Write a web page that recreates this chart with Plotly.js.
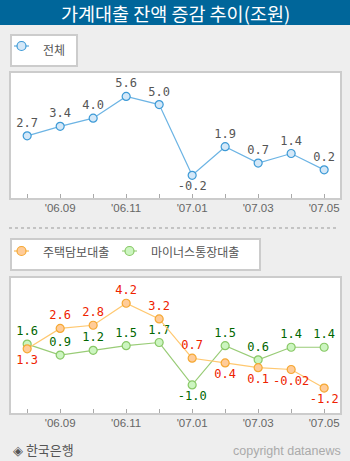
<!DOCTYPE html>
<html><head><meta charset="utf-8">
<script src="https://cdn.plot.ly/plotly-3.0.1.min.js"></script>
<style>html,body{margin:0;padding:0;background:#eeeeee;}#chart{width:350px;height:461px;}</style>
</head><body><div id="chart"></div>
<script>
const months = ["'06.08","'06.09","'06.10","'06.11","'06.12","'07.01","'07.02","'07.03","'07.04","'07.05"];
const total = [2.7, 3.4, 4.0, 5.6, 5.0, -0.2, 1.9, 0.7, 1.4, 0.2];
const mortgage = [1.3, 2.6, 2.8, 4.2, 3.2, 0.7, 0.4, 0.1, -0.02, -1.2];
const minus = [1.6, 0.9, 1.2, 1.5, 1.7, -1.0, 1.5, 0.6, 1.4, 1.4];
const totalLabels = ["2.7","3.4","4.0","5.6","5.0","-0.2","1.9","0.7","1.4","0.2"];
const mortgageLabels = ["1.3","2.6","2.8","4.2","3.2","0.7","0.4","0.1","-0.02","-1.2"];
const minusLabels = ["1.6","0.9","1.2","1.5","1.7","-1.0","1.5","0.6","1.4","1.4"];
const tickText = months.map((m,i)=> i%2===1 ? m : '');

const W=350,H=461;
const px = v => v/W, py = v => 1 - v/H;
const numFont = {family:'DejaVu Sans Mono, monospace', size:12};

const traces = [
 {x:months, y:total, type:'scatter', mode:'lines+markers+text', xaxis:'x', yaxis:'y',
  line:{color:'#6cb4e4', width:1.2}, marker:{size:8, color:'#d4e8f8', line:{color:'#3d9ad6', width:1.2}},
  text: totalLabels, textposition: total.map(v=> v<0 ? 'bottom center' : 'top center'),
  textfont:Object.assign({color:'#555'}, numFont), cliponaxis:false, showlegend:false, hoverinfo:'none'},
 {x:months, y:minus, type:'scatter', mode:'lines+markers+text', xaxis:'x2', yaxis:'y2',
  line:{color:'#99cc77', width:1.2}, marker:{size:8, color:'#ccf5c0', line:{color:'#88c866', width:1.2}},
  text: minusLabels, textposition: minus.map(v=> v<0 ? 'bottom center' : 'top center'),
  textfont:Object.assign({color:'#006600'}, numFont), cliponaxis:false, showlegend:false, hoverinfo:'none'},
 {x:months, y:mortgage, type:'scatter', mode:'lines+markers+text', xaxis:'x2', yaxis:'y2',
  line:{color:'#ffc870', width:1.2}, marker:{size:8, color:'#ffcc99', line:{color:'#f5a833', width:1.2}},
  text: mortgageLabels, textposition: mortgage.map((v,i)=> (i===0 || i>=6) ? 'bottom center' : 'top center'),
  textfont:Object.assign({color:'#ee2200'}, numFont), cliponaxis:false, showlegend:false, hoverinfo:'none'}
];

const xax = (dom, anchor) => ({domain:dom, anchor:anchor, type:'category', range:[-0.49,9.48],
  tickvals:months, ticktext:tickText, ticks:'inside', ticklen:4, tickcolor:'#aaa', tickwidth:1,
  showline:true, mirror:true, linecolor:'#cccccc', linewidth:2, showgrid:false, zeroline:false,
  ticklabelstandoff:-2,
  tickfont:{family:'Liberation Sans, Arial', size:11.5, color:'#666'}, fixedrange:true});
const yax = (dom, anchor, range) => ({domain:dom, anchor:anchor, range:range, showticklabels:false,
  ticks:'', showline:true, mirror:true, linecolor:'#cccccc', linewidth:2, showgrid:false, zeroline:false, fixedrange:true});

const kfont = (size,color)=>({family:'Noto Sans CJK KR, sans-serif', size:size, color:color});

const layout = {
 width:W, height:H, margin:{l:0,r:0,t:0,b:0}, paper_bgcolor:'#eeeeee', plot_bgcolor:'#ffffff',
 showlegend:false,
 xaxis: xax([px(11),px(340)], 'y'),
 yaxis: yax([py(198),py(73)], 'x', [-1.87,7.32]),
 xaxis2: xax([px(11),px(340)], 'y2'),
 yaxis2: yax([py(413),py(278)], 'x2', [-2.79,5.81]),
 shapes:[
  {type:'rect', xref:'paper', yref:'paper', x0:0, x1:1, y0:py(25), y1:1, fillcolor:'#00669a', line:{width:0}, layer:'below'},
  {type:'rect', xref:'paper', yref:'paper', x0:px(11), x1:px(77), y0:py(66), y1:py(35), fillcolor:'#ffffff', line:{color:'#cccccc', width:2}, layer:'below'},
  {type:'line', xref:'paper', yref:'paper', x0:px(14), x1:px(29), y0:py(46), y1:py(46), line:{color:'#3d9ad6', width:1}},
  {type:'circle', xref:'paper', yref:'paper', x0:px(17), x1:px(26), y0:py(50.5), y1:py(41.5), fillcolor:'#d4e8f8', line:{color:'#3d9ad6', width:1.2}},
  {type:'line', xref:'paper', yref:'paper', x0:px(9), x1:px(339), y0:py(228), y1:py(228), line:{color:'#999999', width:1, dash:'dot'}},
  {type:'rect', xref:'paper', yref:'paper', x0:px(11), x1:px(260), y0:py(270), y1:py(239), fillcolor:'#ffffff', line:{color:'#cccccc', width:2}, layer:'below'},
  {type:'line', xref:'paper', yref:'paper', x0:px(14), x1:px(29), y0:py(251), y1:py(251), line:{color:'#f5a833', width:1}},
  {type:'circle', xref:'paper', yref:'paper', x0:px(17), x1:px(26), y0:py(255.5), y1:py(246.5), fillcolor:'#ffcc99', line:{color:'#f5a833', width:1.2}},
  {type:'line', xref:'paper', yref:'paper', x0:px(122), x1:px(137), y0:py(251), y1:py(251), line:{color:'#88c866', width:1}},
  {type:'circle', xref:'paper', yref:'paper', x0:px(125), x1:px(134), y0:py(255.5), y1:py(246.5), fillcolor:'#ccf5c0', line:{color:'#88c866', width:1.2}}
 ],
 annotations:[
  {xref:'paper', yref:'paper', x:0.5, y:py(13), text:'가계대출 잔액 증감 추이(조원)', showarrow:false, xanchor:'center', yanchor:'middle', font:kfont(18.5,'#ffffff')},
  {xref:'paper', yref:'paper', x:px(41), y:py(49), text:'전체', showarrow:false, xanchor:'left', yanchor:'middle', font:kfont(12,'#555555')},
  {xref:'paper', yref:'paper', x:px(41), y:py(252), text:'주택담보대출', showarrow:false, xanchor:'left', yanchor:'middle', font:kfont(12,'#555555')},
  {xref:'paper', yref:'paper', x:px(149), y:py(252), text:'마이너스통장대출', showarrow:false, xanchor:'left', yanchor:'middle', font:kfont(12,'#555555')},
  {xref:'paper', yref:'paper', x:px(11), y:py(449), text:'◈ 한국은행', showarrow:false, xanchor:'left', yanchor:'middle', font:kfont(13,'#555555')},
  {xref:'paper', yref:'paper', x:px(343), y:py(451), text:'copyright datanews', showarrow:false, xanchor:'right', yanchor:'middle', font:{family:'Liberation Sans, Arial', size:12.5, color:'#aaaaaa'}}
 ]
};
Plotly.newPlot('chart', traces, layout, {displayModeBar:false, staticPlot:true});
</script></body></html>
